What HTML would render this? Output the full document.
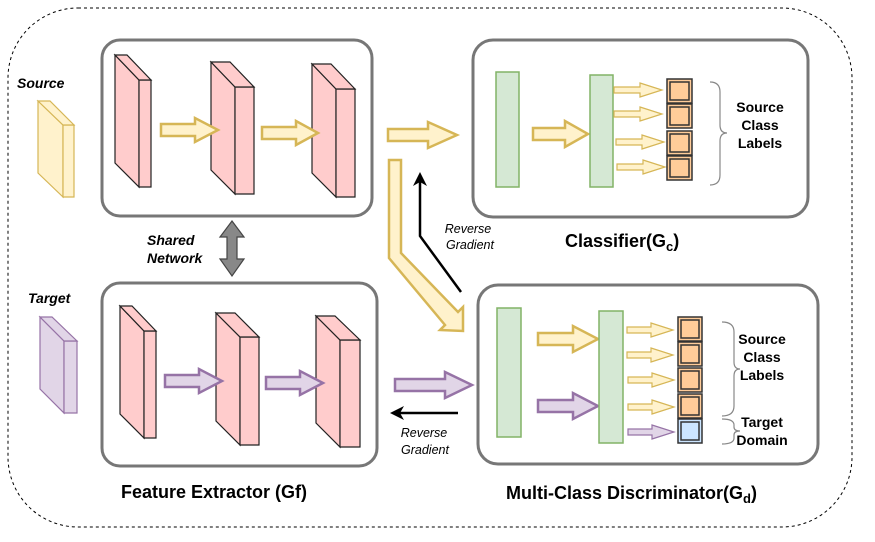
<!DOCTYPE html>
<html><head><meta charset="utf-8"><style>html,body{margin:0;padding:0;background:#fff}svg{display:block}text{font-family:"Liberation Sans",Arial,sans-serif}</style></head><body>
<svg width="875" height="542" viewBox="0 0 875 542" xmlns="http://www.w3.org/2000/svg">
<defs>
<marker id="bk" markerWidth="14" markerHeight="14" refX="10" refY="7" orient="auto" markerUnits="userSpaceOnUse"><path d="M0,0 L14,7 L0,14 L4,7 z" fill="#000"/></marker>
</defs>
<rect x="8" y="8" width="844" height="519" rx="70" fill="none" stroke="#000" stroke-width="1" stroke-dasharray="3,3"/>
<rect x="102" y="40" width="270" height="176" rx="18" fill="#fff" stroke="#777" stroke-width="3"/>
<rect x="102" y="283" width="275" height="183" rx="18" fill="#fff" stroke="#777" stroke-width="3"/>
<rect x="473" y="40" width="335" height="177" rx="20" fill="#fff" stroke="#777" stroke-width="3"/>
<rect x="478" y="285" width="340" height="179" rx="20" fill="#fff" stroke="#777" stroke-width="3"/>
<g fill="#fff2cc" stroke="#d6b656" stroke-width="1.2">
<polygon points="38,101 63,125 63,197 38,173"/><polygon points="63,125 74,125 74,197 63,197"/><polygon points="38,101 50,101 74,125 63,125"/></g>
<g fill="#e1d5e7" stroke="#9673a6" stroke-width="1.2">
<polygon points="40,317 64,341 64,413 40,389"/><polygon points="64,341 77,341 77,413 64,413"/><polygon points="40,317 52,317 77,341 64,341"/></g>
<g fill="#ffcccc" stroke="#222" stroke-width="1.2">
<polygon points="115,55 139,80 139,187 115,163"/><polygon points="139,80 151,80 151,187 139,187"/><polygon points="115,55 127,55 151,80 139,80"/>
<polygon points="211,62 235,87 235,194 211,170"/><polygon points="235,87 254,87 254,194 235,194"/><polygon points="211,62 230,62 254,87 235,87"/>
<polygon points="312,64 336,89 336,197 312,173"/><polygon points="336,89 355,89 355,197 336,197"/><polygon points="312,64 331,64 355,89 336,89"/>
<polygon points="120,306 144,331 144,438 120,414"/><polygon points="144,331 156,331 156,438 144,438"/><polygon points="120,306 132,306 156,331 144,331"/>
<polygon points="216,313 240,337 240,445 216,421"/><polygon points="240,337 259,337 259,445 240,445"/><polygon points="216,313 235,313 259,337 240,337"/>
<polygon points="316,316 340,340 340,447 316,423"/><polygon points="340,340 360,340 360,447 340,447"/><polygon points="316,316 335,316 360,340 340,340"/>
</g>
<g fill="#fff2cc" stroke="#d6b656" stroke-width="2.5">
<polygon points="161,124 195,124 195,118 218,130 195,142 195,136 161,136"/>
<polygon points="262,127 296,127 296,121 318,133 296,145 296,139 262,139"/>
<polygon points="388,129 428,129 428,122 457,135 428,148 428,141 388,141"/>
<polygon points="533,128 565,128 565,121 588,134 565,147 565,140 533,140"/>
<polygon points="538,333 573,333 573,326 598,339 573,352 573,345 538,345"/>
<polygon points="389,160 401,160 401,253 458,312 463,307 463,331 440,330 445,325 389,258"/>
</g>
<g fill="#e1d5e7" stroke="#9673a6" stroke-width="2.5">
<polygon points="165,375 199,375 199,369 222,381 199,393 199,387 165,387"/>
<polygon points="266,377 300,377 300,371 323,383 300,395 300,389 266,389"/>
<polygon points="395,379 445,379 445,372 472,385 445,398 445,391 395,391"/>
<polygon points="538,400 573,400 573,393 598,406 573,419 573,412 538,412"/>
</g>
<g fill="#d5e8d4" stroke="#82b366" stroke-width="1.5">
<rect x="496" y="72" width="23" height="115"/><rect x="590" y="75" width="23" height="112"/>
<rect x="497" y="308" width="24" height="129"/><rect x="599" y="311" width="24" height="132"/>
</g>
<g fill="#fff2cc" stroke="#d6b656" stroke-width="1.2">
<polygon points="614,87 640,87 640,83 662,90 640,97 640,93 614,93"/>
<polygon points="614,111 640,111 640,107 662,114 640,121 640,117 614,117"/>
<polygon points="616,139 642,139 642,135 664,142 642,149 642,145 616,145"/>
<polygon points="617,164 643,164 643,160 665,167 643,174 643,170 617,170"/>
<polygon points="627,327 651,327 651,323 673,330 651,337 651,333 627,333"/>
<polygon points="627,352 651,352 651,348 673,355 651,362 651,358 627,358"/>
<polygon points="628,377 652,377 652,373 674,380 652,387 652,383 628,383"/>
<polygon points="628,404 652,404 652,400 674,407 652,414 652,410 628,410"/>
</g>
<polygon points="628,429 652,429 652,425 674,432 652,439 652,435 628,435" fill="#e1d5e7" stroke="#9673a6" stroke-width="1.2"/>
<g stroke="#333" stroke-width="1.5" fill="#ffcc99">
<rect x="667" y="79" width="25" height="24"/><rect x="670" y="82" width="19" height="18"/>
<rect x="667" y="104" width="25" height="24"/><rect x="670" y="107" width="19" height="18"/>
<rect x="667" y="131" width="25" height="24"/><rect x="670" y="134" width="19" height="18"/>
<rect x="667" y="156" width="25" height="24"/><rect x="670" y="159" width="19" height="18"/>
<rect x="678" y="317" width="24" height="24"/><rect x="681" y="320" width="18" height="18"/>
<rect x="678" y="342" width="24" height="24"/><rect x="681" y="345" width="18" height="18"/>
<rect x="678" y="368" width="24" height="24"/><rect x="681" y="371" width="18" height="18"/>
<rect x="678" y="394" width="24" height="24"/><rect x="681" y="397" width="18" height="18"/>
<rect x="678" y="419" width="24" height="24" fill="#cce5ff"/><rect x="681" y="422" width="18" height="18" fill="#cce5ff"/>
</g>
<g fill="none" stroke="#888" stroke-width="1.2">
<path d="M710,82 Q720,82 720,92 L720,125 Q720,133 727,133 Q720,133 720,141 L720,175 Q720,185 710,185"/>
<path d="M722,322 Q734,322 734,332 L734,362 Q734,369 740,369 Q734,369 734,376 L734,406 Q734,416 722,416"/>
<path d="M722,419 Q734,419 734,425 L734,427 Q734,431 740,431 Q734,431 734,435 L734,438 Q734,444 722,444"/>
</g>
<polygon points="232,221 244,237 237,237 237,259 244,259 232,276 220,259 227,259 227,237 220,237" fill="#888" stroke="#444" stroke-width="1.2"/>
<path d="M461,292 L420,236 L420,176" fill="none" stroke="#000" stroke-width="2.5" marker-end="url(#bk)"/>
<path d="M458,413 L394,413" fill="none" stroke="#000" stroke-width="2.5" marker-end="url(#bk)"/>
<g font-weight="bold" font-style="italic" font-size="14" fill="#000">
<text x="17" y="88">Source</text><text x="28" y="303">Target</text>
<text x="147" y="245">Shared</text><text x="147" y="263">Network</text>
</g>
<g font-style="italic" font-size="12.5" fill="#000" text-anchor="middle">
<text x="468" y="233">Reverse</text><text x="470" y="249">Gradient</text>
<text x="424" y="437">Reverse</text><text x="425" y="454">Gradient</text>
</g>
<g font-weight="bold" font-size="14" text-anchor="middle" fill="#000">
<text x="760" y="112">Source</text><text x="760" y="130">Class</text><text x="760" y="148">Labels</text>
<text x="762" y="344">Source</text><text x="762" y="362">Class</text><text x="762" y="380">Labels</text>
<text x="762" y="427">Target</text><text x="762" y="445">Domain</text>
</g>
<g font-weight="bold" font-size="18" fill="#000">
<text x="565" y="247">Classifier(G<tspan font-size="13" dy="4">c</tspan><tspan dy="-4">)</tspan></text>
<text x="121" y="498">Feature Extractor (Gf)</text>
<text x="506" y="499">Multi-Class Discriminator(G<tspan font-size="13" dy="4">d</tspan><tspan dy="-4">)</tspan></text>
</g>
</svg>
</body></html>
